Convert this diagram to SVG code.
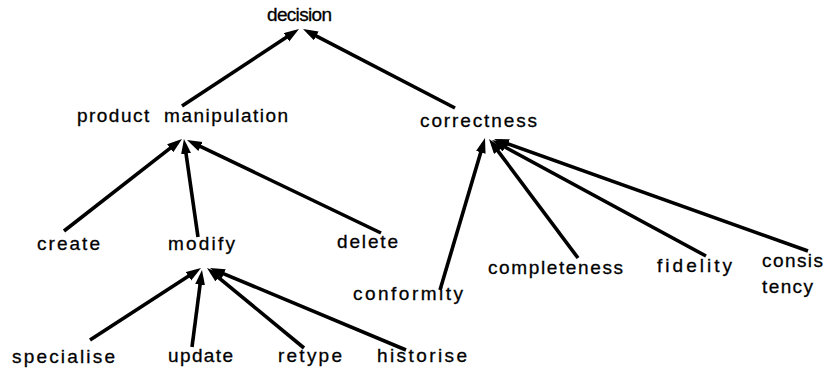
<svg xmlns="http://www.w3.org/2000/svg" width="826" height="372" viewBox="0 0 826 372">
<style>
text{font-family:"Liberation Sans",Arial,sans-serif;font-size:19px;fill:#000;stroke:#000;stroke-width:0.3}
.c line{stroke:#000;stroke-width:3.6;fill:none;marker-end:url(#ah)}
</style>
<defs>
<marker id="ah" markerUnits="userSpaceOnUse" markerWidth="18" markerHeight="12" refX="9" refY="5" orient="auto" viewBox="0 0 18 12">
<path d="M0,0 L15,5 L0,10 z" fill="#000"/>
</marker>
</defs>
<rect width="826" height="372" fill="#fff"/>
<g class="c" id="connectors">
<line x1="182" y1="106" x2="294" y2="32.3"/>
<line x1="455" y1="108" x2="308.3" y2="31.8"/>
<line x1="64" y1="231" x2="177.3" y2="142.7"/>
<line x1="198" y1="237" x2="184.8" y2="144.9"/>
<line x1="381" y1="233" x2="192.4" y2="142.6"/>
<line x1="90" y1="340" x2="196" y2="271.3"/>
<line x1="192" y1="347" x2="201.2" y2="275.9"/>
<line x1="304" y1="348" x2="211.6" y2="271.8"/>
<line x1="406" y1="350" x2="215.5" y2="270.3"/>
<line x1="440" y1="290" x2="483.3" y2="143.8"/>
<line x1="578" y1="258" x2="492.6" y2="143.8"/>
<line x1="706" y1="256" x2="497.3" y2="142.9"/>
<line x1="808" y1="251" x2="499.7" y2="141"/>
</g>
<g id="decision"><text x="267" y="21" textLength="65" lengthAdjust="spacing">decision</text></g>
<g id="product_manipulation"><text x="77" y="122" textLength="211" lengthAdjust="spacing" xml:space="preserve">product  manipulation</text></g>
<g id="correctness"><text x="420" y="127" textLength="117" lengthAdjust="spacing">correctness</text></g>
<g id="create"><text x="37" y="250" textLength="63" lengthAdjust="spacing">create</text></g>
<g id="modify"><text x="168" y="250" textLength="67" lengthAdjust="spacing">modify</text></g>
<g id="delete"><text x="337" y="248" textLength="61" lengthAdjust="spacing">delete</text></g>
<g id="conformity"><text x="353" y="300" textLength="110" lengthAdjust="spacing">conformity</text></g>
<g id="completeness"><text x="488" y="274" textLength="135" lengthAdjust="spacing">completeness</text></g>
<g id="fidelity"><text x="657" y="272" textLength="75" lengthAdjust="spacing">fidelity</text></g>
<g id="consistency"><text x="762" y="267" textLength="61" lengthAdjust="spacing">consis</text><text x="762" y="293" textLength="51" lengthAdjust="spacing">tency</text></g>
<g id="specialise"><text x="12" y="363" textLength="103" lengthAdjust="spacing">specialise</text></g>
<g id="update"><text x="168" y="362" textLength="65" lengthAdjust="spacing">update</text></g>
<g id="retype"><text x="278" y="362" textLength="64" lengthAdjust="spacing">retype</text></g>
<g id="historise"><text x="377" y="362" textLength="90" lengthAdjust="spacing">historise</text></g>
</svg>
